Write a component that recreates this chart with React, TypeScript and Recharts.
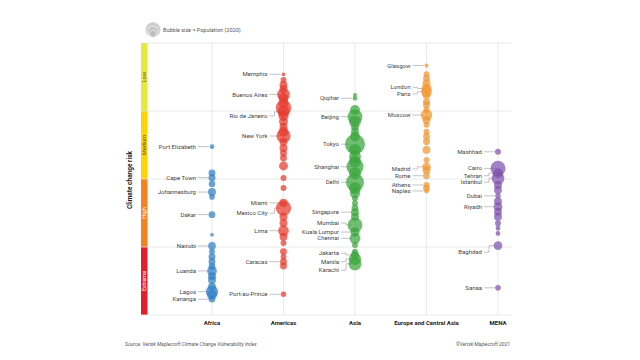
import {
  ReferenceArea,
  ReferenceLine,
  Scatter,
  ScatterChart,
  XAxis,
  YAxis,
  ZAxis,
} from 'recharts';

// Climate change risk score: 10 = low risk (top), 0 = extreme risk (bottom)
// each bubble: [risk score, population in millions (2020)]
const regions = ['Africa', 'Americas', 'Asia', 'Europe and Central Asia', 'MENA'];

const africa: [number, number][] = [
  [6.19, 2.0], [5.22, 4.5], [5.05, 4.6], [4.82, 4.0], [4.52, 5.8], [4.34, 3.0],
  [3.69, 4.2], [2.95, 1.3], [2.54, 5.5], [2.33, 3.3], [2.14, 4.5], [1.96, 4.5],
  [1.78, 4.5], [1.62, 8.9], [1.43, 5.9], [1.29, 5.9], [1.04, 5.9], [0.86, 14.4],
  [0.74, 9.2], [0.58, 4.0],
];

const americas: [number, number][] = [
  [8.85, 1.3], [8.64, 3.3], [8.46, 5.9], [8.31, 5.9], [8.11, 15.2], [7.98, 9.2],
  [7.79, 9.2], [7.62, 22.0], [7.47, 13.5], [7.32, 9.5], [7.11, 7.5], [6.92, 5.9],
  [6.74, 9.2], [6.58, 18.8], [6.37, 5.9], [6.14, 5.9], [5.96, 4.5], [5.77, 4.5],
  [5.48, 7.5], [5.04, 3.3], [4.67, 3.3], [4.12, 6.2], [3.93, 21.8], [3.61, 5.9],
  [3.38, 5.9], [3.10, 10.7], [2.88, 5.9], [2.65, 3.3], [2.33, 4.5], [2.14, 3.3],
  [1.96, 4.5], [1.80, 4.5], [0.76, 2.8],
];

const asia: [number, number][] = [
  [8.09, 1.5], [7.97, 2.0], [7.54, 9.2], [7.29, 20.5], [7.11, 13.3], [6.92, 5.9],
  [6.74, 5.9], [6.56, 9.2], [6.28, 37.4], [6.07, 13.3], [5.82, 13.3], [5.64, 13.3],
  [5.45, 27.1], [5.21, 13.3], [4.88, 30.3], [4.66, 13.3], [4.47, 9.2], [4.29, 3.3],
  [4.11, 3.3], [3.93, 4.5], [3.78, 5.9], [3.61, 5.9], [3.31, 20.4], [3.05, 8.0],
  [2.82, 11.0], [2.57, 3.3], [2.33, 3.3], [2.21, 6.0], [2.06, 14.0], [1.88, 16.1],
];

const europe: [number, number][] = [
  [9.17, 1.6], [8.85, 3.3], [8.70, 4.5], [8.52, 5.9], [8.33, 9.3], [8.21, 11.0],
  [8.09, 5.9], [7.84, 4.5], [7.72, 4.5], [7.54, 3.3], [7.35, 12.5], [7.17, 5.9],
  [6.99, 3.3], [6.74, 3.3], [6.56, 4.5], [6.37, 4.5], [6.07, 5.9], [5.70, 3.3],
  [5.45, 6.6], [5.33, 5.9], [5.12, 4.3], [4.78, 3.2], [4.66, 4.5], [4.56, 2.2],
];

const mena: [number, number][] = [
  [6.00, 3.3], [5.39, 21.3], [5.21, 9.1], [5.03, 15.2], [4.78, 5.9], [4.60, 5.9],
  [4.38, 2.9], [4.17, 5.9], [3.98, 7.2], [3.80, 5.9], [3.61, 5.9], [3.37, 3.3],
  [3.19, 2.2], [3.00, 2.2], [2.55, 7.1], [1.00, 3.0],
];

// [region index, city, bubble risk, label risk]
const cityLabels: [number, string, number, number][] = [
  [0, 'Port Elizabeth', 6.19, 6.19], [0, 'Cape Town', 5.05, 5.05],
  [0, 'Johannesburg', 4.52, 4.52], [0, 'Dakar', 3.69, 3.69], [0, 'Nairobi', 2.54, 2.54],
  [0, 'Luanda', 1.62, 1.62], [0, 'Lagos', 0.86, 0.86], [0, 'Kananga', 0.58, 0.58],
  [1, 'Memphis', 8.85, 8.85], [1, 'Buenos Aires', 8.11, 8.11],
  [1, 'Rio de Janeiro', 7.47, 7.32], [1, 'New York', 6.58, 6.58], [1, 'Miami', 4.12, 4.12],
  [1, 'Mexico City', 3.93, 3.74], [1, 'Lima', 3.10, 3.10], [1, 'Caracas', 1.96, 1.96],
  [1, 'Port-au-Prince', 0.76, 0.76],
  [2, 'Qiqihar', 7.97, 7.97], [2, 'Beijing', 7.29, 7.29], [2, 'Tokyo', 6.28, 6.28],
  [2, 'Shanghai', 5.45, 5.45], [2, 'Delhi', 4.88, 4.88], [2, 'Singapore', 3.78, 3.78],
  [2, 'Mumbai', 3.31, 3.38], [2, 'Kuala Lumpur', 3.05, 3.05], [2, 'Chennai', 2.82, 2.82],
  [2, 'Jakarta', 2.21, 2.27], [2, 'Manila', 2.06, 1.96], [2, 'Karachi', 1.88, 1.65],
  [3, 'Glasgow', 9.17, 9.17], [3, 'London', 8.33, 8.37], [3, 'Paris', 8.21, 8.13],
  [3, 'Moscow', 7.35, 7.35], [3, 'Madrid', 5.45, 5.37], [3, 'Rome', 5.12, 5.12],
  [3, 'Athens', 4.78, 4.78], [3, 'Naples', 4.56, 4.56],
  [4, 'Mashhad', 6.00, 6.00], [4, 'Cairo', 5.39, 5.39], [4, 'Tehran', 5.21, 5.12],
  [4, 'Istanbul', 5.03, 4.88], [4, 'Dubai', 4.38, 4.38], [4, 'Riyadh', 3.98, 3.98],
  [4, 'Baghdad', 2.55, 2.31], [4, 'Sanaa', 1.00, 1.00],
];

const riskBands = [
  { name: 'Low', from: 7.5, to: 10 },
  { name: 'Medium', from: 5, to: 7.5 },
  { name: 'High', from: 2.5, to: 5 },
  { name: 'Extreme', from: 0, to: 2.5 },
];

const bandColors = ['#e6e83a', '#ffd400', '#f5821f', '#e2202b'];
const bandText = ['#555', '#555', '#fff', '#fff'];
const regionColors = ['#2f7fc6', '#e8392c', '#37a53a', '#f29530', '#7e50ad'];
const seriesData = [africa, americas, asia, europe, mena];

const FONT = 'Roboto, sans-serif';
const PLOT_TOP = 43;
const PLOT_BOTTOM = 315;
const X_AXIS_H = 20;
const PX_PER_RISK = (PLOT_BOTTOM - PLOT_TOP) / 10;

const labelData = cityLabels.map(([r, city, y, ly]) => ({ x: r, y, ly, city }));

function CityLabel(props: any) {
  const { cx, cy, payload } = props;
  if (cx == null || cy == null) return null;
  const ly = cy + (payload.y - payload.ly) * PX_PER_RISK;
  const bent = Math.abs(ly - cy) > 0.5;
  const d = bent
    ? `M${cx - 14},${ly}H${cx - 9}V${cy}H${cx - 3}`
    : `M${cx - 14},${cy}H${cx - 3}`;
  return (
    <g>
      <path d={d} stroke="#9a9a9a" strokeWidth={0.6} fill="none" />
      <text
        x={cx - 16}
        y={ly}
        dy="0.35em"
        textAnchor="end"
        fontSize={6}
        fill="#444"
        fontFamily={FONT}
      >
        {payload.city}
      </text>
    </g>
  );
}

const bandLabel = (text: string, color: string) => (props: any) => {
  const vb = props.viewBox;
  if (!vb) return null;
  const cx = vb.x + vb.width / 2;
  const cy = vb.y + vb.height / 2;
  return (
    <text
      x={cx}
      y={cy}
      transform={`rotate(-90 ${cx} ${cy})`}
      textAnchor="middle"
      dominantBaseline="central"
      fontSize={5.5}
      fill={color}
      fontFamily={FONT}
    >
      {text}
    </text>
  );
};

export default function App() {
  return (
    <div style={{ position: 'absolute', left: 0, top: 0, width: 640, height: 360, background: '#fff' }}>
      <ScatterChart
        width={640}
        height={360}
        margin={{ top: PLOT_TOP, right: 128, bottom: 360 - PLOT_BOTTOM - X_AXIS_H, left: 141 }}
      >
        <XAxis
          dataKey="x"
          type="number"
          domain={[-0.993, 4.196]}
          allowDataOverflow
          ticks={[0, 1, 2, 3, 4]}
          interval={0}
          tickFormatter={(i) => regions[i]}
          axisLine={false}
          tickLine={false}
          tickSize={0}
          tickMargin={6}
          height={X_AXIS_H}
          tick={{ fontSize: 6, fontWeight: 700, fill: '#222', fontFamily: FONT }}
        />
        <YAxis dataKey="y" type="number" domain={[0, 10]} allowDataOverflow hide />
        <ZAxis dataKey="z" type="number" domain={[0, 37.4]} range={[0, Math.PI * 100]} />

        {[0, 2.5, 5, 7.5, 10].map((v) => (
          <ReferenceLine key={'h' + v} y={v} stroke="#e4e4e4" strokeWidth={0.8} />
        ))}
        {regions.map((_, i) => (
          <ReferenceLine key={'v' + i} x={i} stroke="#e4e4e4" strokeWidth={0.8} />
        ))}

        {riskBands.map((b, i) => (
          <ReferenceArea
            key={b.name}
            x1={-0.993}
            x2={-0.902}
            y1={b.from}
            y2={b.to}
            fill={bandColors[i]}
            fillOpacity={1}
            stroke="none"
            label={bandLabel(b.name, bandText[i])}
          />
        ))}

        <Scatter
          data={labelData}
          shape={CityLabel}
          isAnimationActive={false}
        />

        {seriesData.map((s, i) => (
          <Scatter
            key={regions[i]}
            name={regions[i]}
            data={s.map(([risk, pop]) => ({ x: i, y: risk, z: pop }))}
            fill={regionColors[i]}
            fillOpacity={0.72}
            isAnimationActive={false}
          />
        ))}
      </ScatterChart>

      <svg
        width={640}
        height={360}
        style={{ position: 'absolute', left: 0, top: 0, pointerEvents: 'none' }}
        fontFamily={FONT}
      >
        <circle cx={153} cy={29.7} r={7.5} fill="#cfcfcf" />
        <circle cx={153} cy={31.7} r={5.5} fill="#c6c6c6" stroke="#fff" strokeWidth={0.6} />
        <circle cx={153} cy={33.7} r={3.5} fill="#bdbdbd" stroke="#fff" strokeWidth={0.6} />
        <text x={163} y={31.6} fontSize={5.5} fill="#555">
          Bubble size = Population (2020)
        </text>

        <text
          x={130}
          y={180}
          transform="rotate(-90 130 180)"
          textAnchor="middle"
          dominantBaseline="central"
          fontSize={6.5}
          fontWeight={700}
          fill="#222"
        >
          Climate change risk
        </text>

        <text x={125} y={345.5} fontSize={5} fontStyle="italic" fill="#555">
          Source: Verisk Maplecroft Climate Change Vulnerability Index
        </text>
        <text x={510} y={345.5} fontSize={5} fontStyle="italic" fill="#555" textAnchor="end">
          ©Verisk Maplecroft 2021
        </text>
      </svg>
    </div>
  );
}
